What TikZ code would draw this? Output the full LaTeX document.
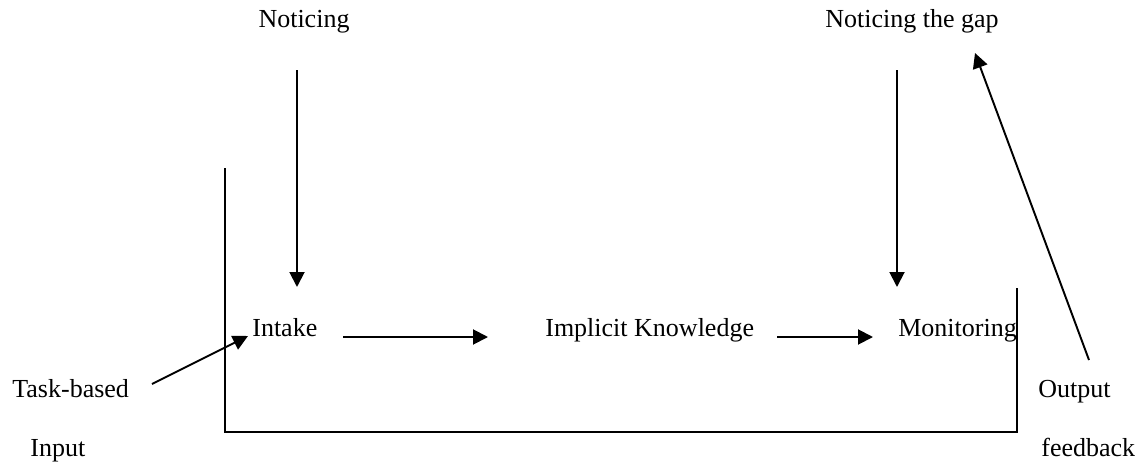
\documentclass[tikz,border=0pt]{standalone}
\usepackage{fontspec}
\setmainfont{Liberation Serif}
\usetikzlibrary{arrows.meta}

\begin{document}
\begin{tikzpicture}[
    x=0.02cm, y=-0.02cm,
    every node/.style={font=\fontsize{14.8pt}{18pt}\selectfont, inner sep=0pt},
    lbl/.style={anchor=base west},
    arrow/.style={-{Triangle[length=0.3cm, width=0.3cm]}, line width=1.1pt},
    frame/.style={line width=0.8pt}
]
    \useasboundingbox (0,0) rectangle (1140,463);

    % --- Top labels ---
    \node[anchor=base] (noticing) at (304,28) {Noticing};
    \node[anchor=base] (gap) at (912,28) {Noticing the gap};

    % --- Middle row ---
    \node[lbl] (intake) at (252,336) {Intake};
    \node[lbl] (implicit) at (545,336) {Implicit Knowledge};
    \node[lbl] (monitoring) at (898,336) {Monitoring};

    % --- Side labels ---
    \node[lbl] (task) at (12,397) {Task-based};
    \node[lbl] (input) at (30,456) {Input};
    \node[lbl] (output) at (1038,397) {Output};
    \node[lbl] (feedback) at (1041,456) {feedback};

    % --- Arrow ends ---
    \coordinate (noticingEnd) at (297,70);
    \coordinate (intakeTop) at (297,287);
    \coordinate (gapEnd) at (897,70);
    \coordinate (monitoringTop) at (897,287);
    \coordinate (intakeOut) at (343,337);
    \coordinate (implicitIn) at (488,337);
    \coordinate (implicitOut) at (777,337);
    \coordinate (monitoringIn) at (873,337);
    \coordinate (taskEnd) at (152,384);
    \coordinate (intakeIn) at (248,336);
    \coordinate (outputEnd) at (1089,360);
    \coordinate (gapIn) at (975,53);

    \draw[arrow] (noticingEnd) -- (intakeTop);
    \draw[arrow] (gapEnd) -- (monitoringTop);
    \draw[arrow] (intakeOut) -- (implicitIn);
    \draw[arrow] (implicitOut) -- (monitoringIn);
    \draw[arrow] (taskEnd) -- (intakeIn);
    \draw[arrow] (outputEnd) -- (gapIn);

    % --- Open frame ---
    \draw[frame] (225,168) -- (225,432) -- (1017,432) -- (1017,288);
\end{tikzpicture}
\end{document}
